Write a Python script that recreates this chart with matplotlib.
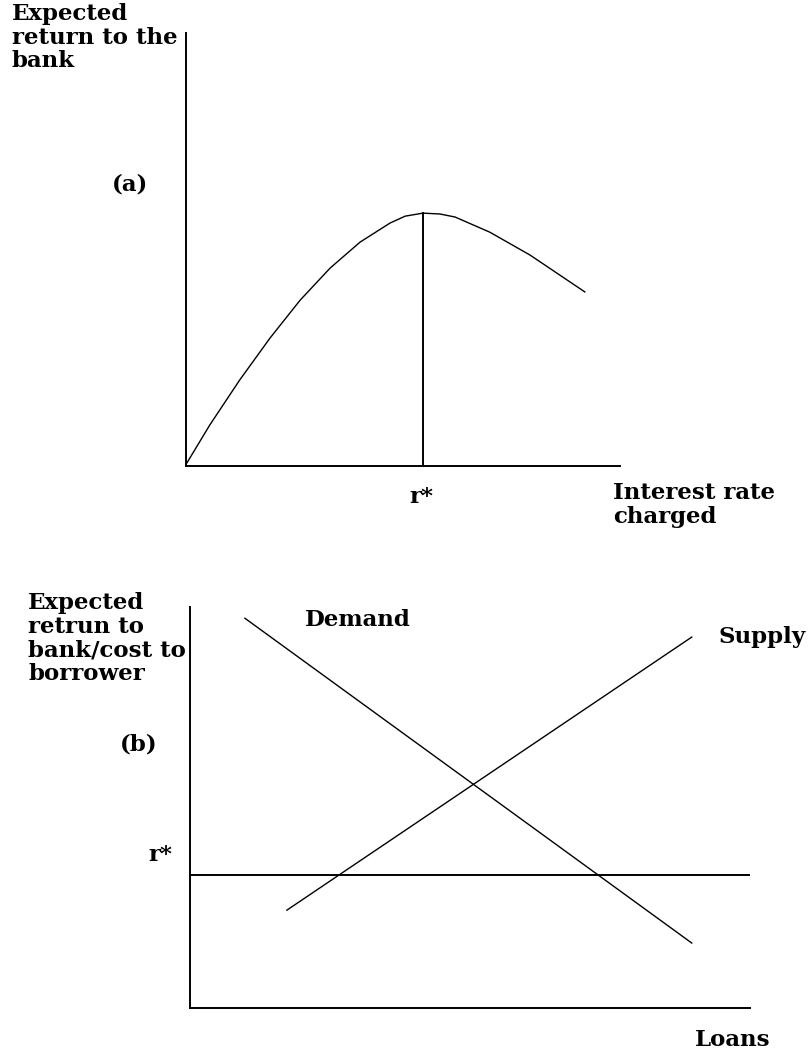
import numpy as np
import matplotlib
matplotlib.use('Agg')
import matplotlib.pyplot as plt

W, H = 808, 1054

# panel (a): expected return vs interest rate charged
rate = [0.02, 0.55, 1.24, 1.94, 2.63, 3.32, 4.01, 4.70, 5.05, 5.46, 5.85, 6.20, 7.00, 7.93, 9.19]
expected_return = [0.07, 0.95, 1.99, 2.96, 3.83, 4.57, 5.17, 5.61, 5.77, 5.84, 5.82, 5.75, 5.40, 4.87, 4.02]
r_star_a = 5.46
peak_return = 5.84

# panel (b): loan market
demand_x = [0.98, 8.96]
demand_y = [9.72, 1.62]
supply_x = [1.73, 8.96]
supply_y = [2.44, 9.25]
r_star_b = 3.32


def fx(px):
    return px / W


def fy(py):
    return 1 - py / H


def make_axes(left, top, right, bottom):
    ax = fig.add_axes([fx(left), fy(bottom), (right - left) / W, (bottom - top) / H])
    ax.set_xlim(0, 10)
    ax.set_ylim(0, 10)
    for s in ['top', 'right']:
        ax.spines[s].set_visible(False)
    for s in ['left', 'bottom']:
        ax.spines[s].set_linewidth(1.4)
        ax.spines[s].set_color('black')
    ax.set_xticks([])
    ax.set_yticks([])
    ax.patch.set_alpha(0)
    return ax


fig = plt.figure(figsize=(W / 100, H / 100), dpi=100)
fig.patch.set_facecolor('white')

font = dict(family='DejaVu Serif', weight='bold', fontsize=16.5, color='black')

# ---- (a)
ax1 = make_axes(186, 33, 620, 466)
ax1.plot(rate, expected_return, color='black', lw=1.0, solid_joinstyle='round')
ax1.plot([r_star_a, r_star_a], [0, peak_return], color='black', lw=1.4)

fig.text(fx(12), fy(3), 'Expected\nreturn to the\nbank', ha='left', va='top',
         linespacing=1.1, **font)
fig.text(fx(112), fy(185), '(a)', ha='left', va='center', **font)
fig.text(fx(421), fy(497), 'r*', ha='center', va='center', **font)
fig.text(fx(613), fy(482), 'Interest rate\ncharged', ha='left', va='top',
         linespacing=1.1, **font)

# ---- (b)
ax2 = make_axes(190, 607, 750, 1008)
ax2.plot(demand_x, demand_y, color='black', lw=1.0)
ax2.plot(supply_x, supply_y, color='black', lw=1.0)
ax2.axhline(r_star_b, color='black', lw=1.4)

fig.text(fx(28), fy(592), 'Expected\nretrun to\nbank/cost to\nborrower', ha='left', va='top',
         linespacing=1.1, **font)
fig.text(fx(120), fy(745), '(b)', ha='left', va='center', **font)
fig.text(fx(148), fy(855), 'r*', ha='left', va='center', **font)
fig.text(fx(305), fy(620), 'Demand', ha='left', va='center', **font)
fig.text(fx(806), fy(637), 'Supply', ha='right', va='center', **font)
fig.text(fx(770), fy(1040), 'Loans', ha='right', va='center', **font)

fig.savefig('out.png', dpi=100, facecolor='white')
